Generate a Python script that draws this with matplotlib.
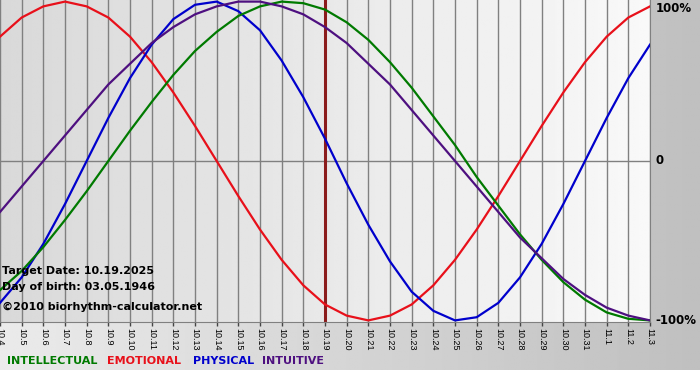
import numpy as np
import matplotlib.pyplot as plt

# days shown on the chart (month.day)
dates = ['10.4', '10.5', '10.6', '10.7', '10.8', '10.9', '10.10', '10.11', '10.12',
         '10.13', '10.14', '10.15', '10.16', '10.17', '10.18', '10.19', '10.20',
         '10.21', '10.22', '10.23', '10.24', '10.25', '10.26', '10.27', '10.28',
         '10.29', '10.30', '10.31', '11.1', '11.2', '11.3']
target_date = '10.19'

# cycle values per day, -1 .. 1
physical = [-0.89, -0.73, -0.52, -0.27, 0.00, 0.27, 0.52, 0.73, 0.89, 0.98, 1.00,
            0.94, 0.82, 0.63, 0.40, 0.14, -0.14, -0.40, -0.63, -0.82, -0.94, -1.00,
            -0.98, -0.89, -0.73, -0.52, -0.27, 0.00, 0.27, 0.52, 0.73]
emotional = [0.78, 0.90, 0.97, 1.00, 0.97, 0.90, 0.78, 0.62, 0.43, 0.22, 0.00,
             -0.22, -0.43, -0.62, -0.78, -0.90, -0.97, -1.00, -0.97, -0.90, -0.78,
             -0.62, -0.43, -0.22, 0.00, 0.22, 0.43, 0.62, 0.78, 0.90, 0.97]
intellectual = [-0.81, -0.69, -0.54, -0.37, -0.19, 0.00, 0.19, 0.37, 0.54, 0.69, 0.81,
                0.91, 0.97, 1.00, 0.99, 0.95, 0.87, 0.76, 0.62, 0.46, 0.28, 0.10,
                -0.10, -0.28, -0.46, -0.62, -0.76, -0.87, -0.95, -0.99, -1.00]
intuitive = [-0.32, -0.16, 0.00, 0.16, 0.32, 0.48, 0.61, 0.74, 0.84, 0.92, 0.97,
             1.00, 1.00, 0.97, 0.92, 0.84, 0.74, 0.61, 0.48, 0.32, 0.16, 0.00,
             -0.16, -0.32, -0.48, -0.61, -0.74, -0.84, -0.92, -0.97, -1.00]

C_INT = '#007a00'
C_EMO = '#e8101a'
C_PHY = '#0000cc'
C_ITU = '#4e1080'

fig = plt.figure(figsize=(7, 3.8), dpi=100)
fig.patch.set_facecolor('white')

# grey gradient panel behind everything
bg = fig.add_axes([0, 0, 1, 1], zorder=-1)
bg.axis('off')
shade = np.tile(np.linspace(0.92, 0.75, 256), (50, 1))
bg.imshow(shade, cmap='gray', vmin=0, vmax=1, aspect='auto',
          extent=(0, 1, 10 / 380, 1))
bg.set_xlim(0, 1)
bg.set_ylim(0, 1)

ax = fig.add_axes([0, 58 / 380, 650 / 700, 322 / 380])
x = np.arange(len(dates))
ax.set_xlim(0, len(dates) - 1)
ax.set_ylim(-1.01, 1.01)

# plot area gradient
pa = np.tile(np.linspace(0.85, 0.975, 256), (10, 1))
ax.imshow(pa, cmap='gray', vmin=0, vmax=1, aspect='auto',
          extent=(0, len(dates) - 1, -1.01, 1.01), zorder=0)

ax.set_xticks(x)
ax.set_xticklabels(dates, rotation=270, fontsize=6.5, family='Liberation Sans')
ax.tick_params(axis='x', length=3, width=1, color='#444444', pad=1)
ax.set_yticks([])
ax.grid(axis='x', color='#808080', lw=1, zorder=1)
ax.axhline(0, color='#808080', lw=1, zorder=1)
for s in ['top', 'left']:
    ax.spines[s].set_visible(False)
for s in ['bottom', 'right']:
    ax.spines[s].set_color('#808080')

ax.axvline(dates.index(target_date), color='#8b1c1c', lw=2.2, zorder=2)

ax.plot(x, emotional, color=C_EMO, lw=1.6, zorder=3, solid_joinstyle='round')
ax.plot(x, physical, color=C_PHY, lw=1.6, zorder=3, solid_joinstyle='round')
ax.plot(x, intellectual, color=C_INT, lw=1.6, zorder=3, solid_joinstyle='round')
ax.plot(x, intuitive, color=C_ITU, lw=1.6, zorder=3, solid_joinstyle='round')

# right side scale labels
for val, lab, va in [(1.0, '100%', 'top'), (0.0, '0', 'center'), (-1.0, '-100%', 'center')]:
    ax.text(len(dates) - 1 + 0.25, val, lab, fontsize=8.5, fontweight='bold',
            va=va, ha='left', clip_on=False)

ax.text(0.003, 0.158, 'Target Date: 10.19.2025', transform=ax.transAxes,
        fontsize=8, fontweight='bold', va='center', zorder=4)
ax.text(0.003, 0.109, 'Day of birth: 03.05.1946', transform=ax.transAxes,
        fontsize=8, fontweight='bold', va='center', zorder=4)
ax.text(0.003, 0.047, '\u00a92010 biorhythm-calculator.net', transform=ax.transAxes,
        fontsize=8, fontweight='bold', va='center', zorder=4)

# legend line under the chart
for px, name, col in [(7, 'INTELLECTUAL', C_INT), (107, 'EMOTIONAL', C_EMO),
                      (193, 'PHYSICAL', C_PHY), (262, 'INTUITIVE', C_ITU)]:
    fig.text(px / 700, 19 / 380, name, color=col, fontsize=8,
             fontweight='bold', va='center', ha='left')

plt.savefig('out.png', dpi=100)
